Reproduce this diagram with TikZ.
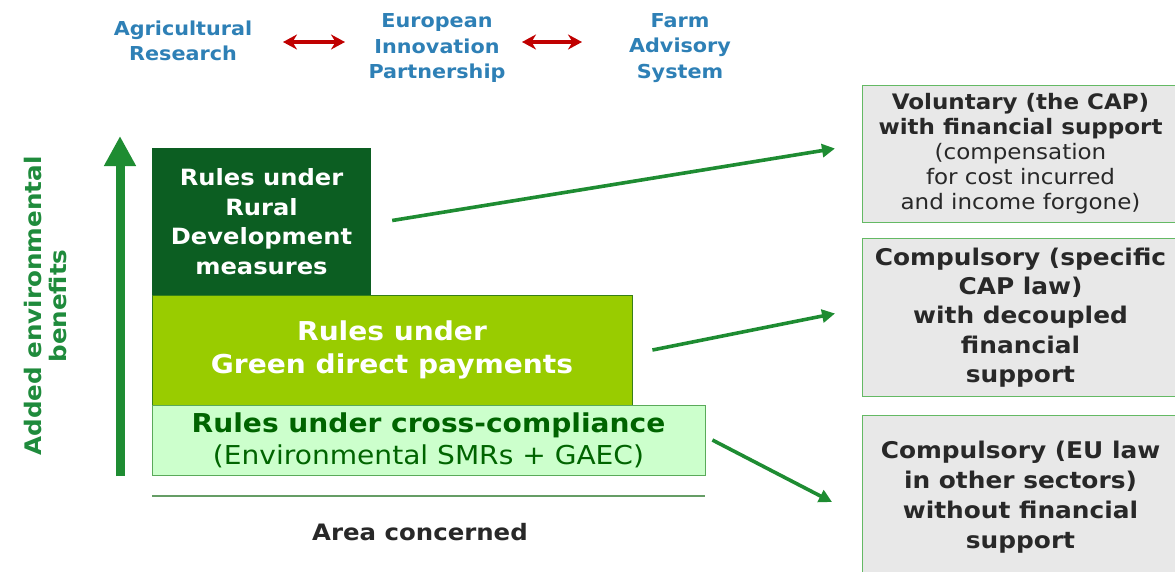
\documentclass[tikz,border=0pt]{standalone}
\usepackage{fontspec}
\setmainfont[FakeStretch=1.08]{DejaVu Sans}
\usetikzlibrary{arrows.meta,calc}
\definecolor{topblue}{RGB}{46,128,182}
\definecolor{dred}{RGB}{192,0,0}
\definecolor{arrgreen}{RGB}{30,140,50}
\definecolor{rdgreen}{RGB}{12,94,34}
\definecolor{gpgreen}{RGB}{153,204,0}
\definecolor{palegreen}{RGB}{204,255,204}
\definecolor{paleborder}{RGB}{90,170,90}
\definecolor{graybox}{RGB}{232,232,232}
\definecolor{grayborder}{RGB}{100,185,100}
\definecolor{darktext}{RGB}{40,40,40}
\definecolor{ccgreen}{RGB}{0,100,0}
\definecolor{axisgreen}{RGB}{31,139,60}
\begin{document}
\begin{tikzpicture}[x=1pt,y=-1pt,
  toptext/.style={text=topblue,font=\fontsize{19.2}{25.5}\selectfont\bfseries,align=center,inner sep=0},
  redarrow/.style={draw=dred,line width=3.5pt,{Stealth[length=14pt,width=15pt]}-{Stealth[length=14pt,width=15pt]}},
  greenarrow/.style={draw=arrgreen,line width=3.6pt,-{Triangle[length=13pt,width=13pt]}},
  level/.style={rectangle,inner sep=0,align=center},
  rightbox/.style={rectangle,fill=graybox,draw=grayborder,line width=1pt,inner sep=0,align=center,text=darktext,anchor=north west,minimum width=316pt}
]
\useasboundingbox (0,0) rectangle (1175,571);
\fill[white] (0,0) rectangle (1175,571);
% top row
\node[toptext] (ar) at (183,41) {Agricultural\\Research};
\node[toptext] (eip) at (437,48) {European\\Innovation\\Partnership};
\node[toptext] (fas) at (680,48) {Farm\\Advisory\\System};
\draw[redarrow] ($(ar.center)+(100,1)$) -- ($(eip.center)+(-92,-6)$);
\draw[redarrow] ($(eip.center)+(85,-6)$) -- ($(fas.center)+(-98,-6)$);
% level boxes
\node[level,fill=rdgreen,minimum width=219pt,minimum height=147pt,text=white,font=\fontsize{22.4}{29.7}\selectfont\bfseries] (rd) at (261.5,221.5) {Rules under\\Rural\\Development\\measures};
\node[level,fill=gpgreen,draw=rdgreen!70!gpgreen,line width=0.8pt,minimum width=480pt,minimum height=110pt,text=white,font=\fontsize{26}{33}\selectfont\bfseries] (gp) at (392,350) {Rules under\\Green direct payments};
\node[level,fill=palegreen,draw=paleborder,line width=0.8pt,minimum width=553pt,minimum height=70pt,text=ccgreen,font=\fontsize{26}{32}\selectfont] (cc) at (428.5,440) {\bfseries Rules under cross-compliance\\(Environmental SMRs + GAEC)};
% axes
\coordinate (ab) at (120,476);
\coordinate (at) at (120,136);
\draw[draw=arrgreen,line width=9pt,-{Triangle[length=30pt,width=30pt]}] (ab) -- (at);
\node[rotate=90,align=center,text=axisgreen,font=\fontsize{22.8}{25}\selectfont\bfseries,inner sep=0] (yl) at (45,306) {Added environmental\\benefits};
\coordinate (bl) at (152,496);
\coordinate (br) at (705,496);
\draw[draw=paleborder!70!gray,line width=1.2pt] (bl) -- (br);
\node[inner sep=0,text=darktext,font=\fontsize{22.6}{24}\selectfont\bfseries] (area) at (420,532) {Area concerned};
% right boxes
\node[rightbox,minimum height=137pt,font=\fontsize{21.3}{25}\selectfont] (b1) at (862,85) {\bfseries Voluntary (the CAP)\\\bfseries with financial support\\(compensation\\for cost incurred\\and income forgone)};
\node[rightbox,minimum height=158pt,font=\fontsize{23}{29.2}\selectfont\bfseries] (b2) at (862,238) {Compulsory (specific\\CAP law)\\with decoupled\\financial\\support};
\node[rightbox,minimum height=163pt,font=\fontsize{23}{29.8}\selectfont\bfseries] (b3) at (862,415) {Compulsory (EU law\\in other sectors)\\without financial\\support};
% connectors
\draw[greenarrow] ($(rd.east)+(21,-1)$) -- ($(b1.west)+(-27,-5.5)$);
\draw[greenarrow] ($(gp.east)+(20,0)$) -- ($(b2.west)+(-27,-4)$);
\draw[greenarrow] ($(cc.east)+(7,0)$) -- ($(b3.west)+(-30,5)$);
\end{tikzpicture}
\end{document}
